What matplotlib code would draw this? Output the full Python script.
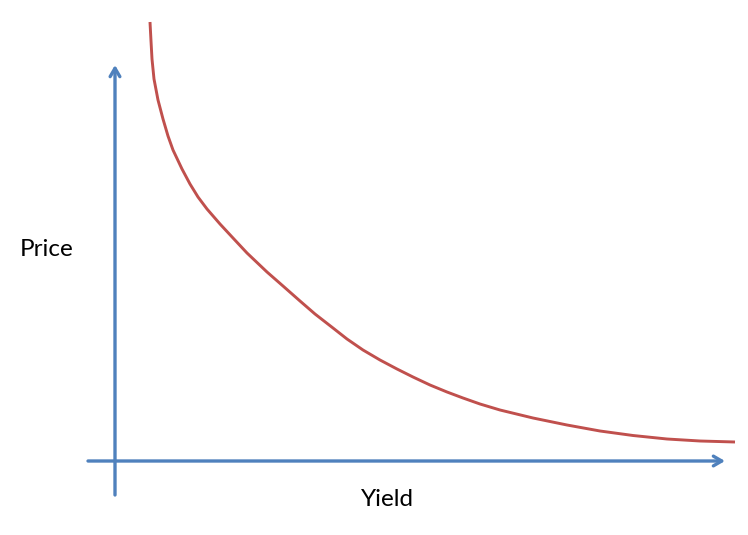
import matplotlib.pyplot as plt

# Curva preço x yield (origem no cruzamento dos eixos)
yield_vals = [35, 36, 37, 39, 43, 48, 53, 58, 67, 75, 83, 92, 105, 118, 132,
              152, 168, 185, 200, 218, 232, 248, 265, 282, 298, 315, 332, 348,
              365, 385, 418, 452, 485, 518, 552, 585, 620]
price_vals = [439, 420, 402, 382, 361, 342, 325, 311, 292, 277, 264, 252, 237,
              223, 208, 189, 175, 160, 147, 133, 122, 111, 101, 92, 84, 76, 69,
              63, 57, 51, 43, 36, 30, 25.5, 22, 20, 19]

blue = '#4F81BD'
red = '#C0504D'

fig = plt.figure(figsize=(7.48, 5.35), dpi=100)
ax = fig.add_axes([0, 0, 1, 1])
ax.set_xlim(-115, 633)
ax.set_ylim(-74, 461)
ax.axis('off')

# eixos com seta
seta = dict(arrowstyle='->,head_length=0.6,head_width=0.35',
            color=blue, lw=2.4, shrinkA=0, shrinkB=0)
ax.annotate('', xy=(0, 396), xytext=(0, -34), arrowprops=seta)
ax.annotate('', xy=(610, 0), xytext=(-27, 0), arrowprops=seta)

ax.plot(yield_vals, price_vals, color=red, lw=2.1, solid_capstyle='butt',
        solid_joinstyle='round')

fonte = ['Lato', 'DejaVu Sans']
ax.text(-68, 211, 'Price', fontsize=17.5, family=fonte, ha='center', va='center')
ax.text(272, -39, 'Yield', fontsize=17.5, family=fonte, ha='center', va='center')

fig.savefig('out.png', dpi=100)
